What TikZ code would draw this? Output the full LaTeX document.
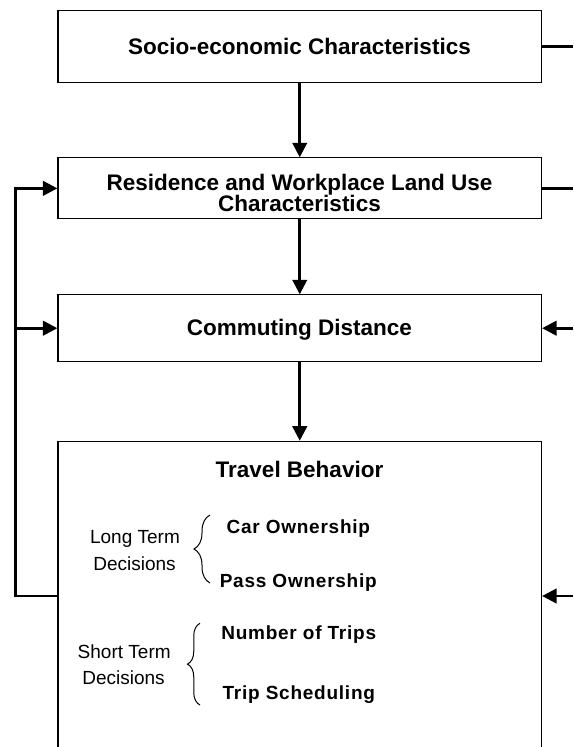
\documentclass[tikz,border=0pt]{standalone}
\usepackage{fontspec}
\setmainfont{Liberation Sans}
\usetikzlibrary{arrows.meta,decorations.pathreplacing}
\begin{document}
\begin{tikzpicture}[x=1pt,y=-1pt,
  box/.style={draw, line width=1.1pt, rectangle, inner sep=0pt, anchor=north west, minimum width=483.6pt},
  conn/.style={line width=2.6pt},
  arr/.style={conn, -{Triangle[length=14.5pt,width=14.5pt]}},
  head/.style={font=\fontsize{22.5}{21.3}\selectfont\bfseries, anchor=base, inner sep=0pt},
  sub/.style={font=\fontsize{19}{22}\selectfont\bfseries\addfontfeature{LetterSpace=4}, anchor=base, inner sep=0pt},
  note/.style={font=\fontsize{19}{27}\selectfont, anchor=base, inner sep=0pt},
  brc/.style={decorate, line width=1pt}
]
\clip (0,0) rectangle (573,747);
\fill[white] (0,0) rectangle (573,747);
\coordinate (edgeR) at (573,0);

% boxes
\node[box, minimum height=72.3pt] (b1) at (57.4,10) {};
\node[box, minimum height=61pt] (b2) at (57.4,157.3) {};
\node[box, minimum height=66.7pt] (b3) at (57.4,294.3) {};
\node[box, minimum height=340pt] (b4) at (57.4,440.7) {};

% texts
\node[head] (t1) at (299.5,54) {Socio-economic Characteristics};
\node[head] (t2a) at (299.5,190.7) {Residence and Workplace Land Use};
\node[head] (t2b) at (299.5,211.7) {Characteristics};
\node[head] (t3) at (299.5,335) {Commuting Distance};
\node[head] (t4) at (299.5,477.7) {Travel Behavior};

\node[note] (lt1) at (135,543) {Long Term};
\node[note] (lt2) at (134.5,570.5) {Decisions};
\node[sub] (car) at (298.3,533) {Car Ownership};
\node[sub] (pass) at (298.3,587) {Pass Ownership};

\node[note] (st1) at (124.2,658.7) {Short Term};
\node[note] (st2) at (123.5,684.7) {Decisions};
\node[sub] (num) at (298.7,639.2) {Number of Trips};
\node[sub] (sched) at (298.8,699.2) {Trip Scheduling};

% braces
\draw[brc, decoration={brace, amplitude=16pt}] (210,583) -- (210,515);
\draw[brc, decoration={brace, amplitude=12.5pt}] (200,705) -- (200,623.3);

% vertical arrows
\draw[arr] (b1.south) -- (b1.south |- b2.north);
\draw[arr] (b2.south) -- (b2.south |- b3.north);
\draw[arr] (b3.south) -- (b3.south |- b4.north);

% right side lines
\draw[conn] (b1.east) -- (b1.east -| edgeR);
\draw[conn] (b2.east) -- (b2.east -| edgeR);
\draw[arr] (b3.east -| edgeR) -- (b3.east);
\coordinate (fb) at (15.3,596);
\draw[arr] (fb -| edgeR) -- (fb -| b4.east);

% left feedback loop
\draw[arr] (fb -| b4.west) -- (fb) -- (fb |- b2.west) -- (b2.west);
\draw[arr] (fb |- b3.west) -- (b3.west);
\end{tikzpicture}
\end{document}
